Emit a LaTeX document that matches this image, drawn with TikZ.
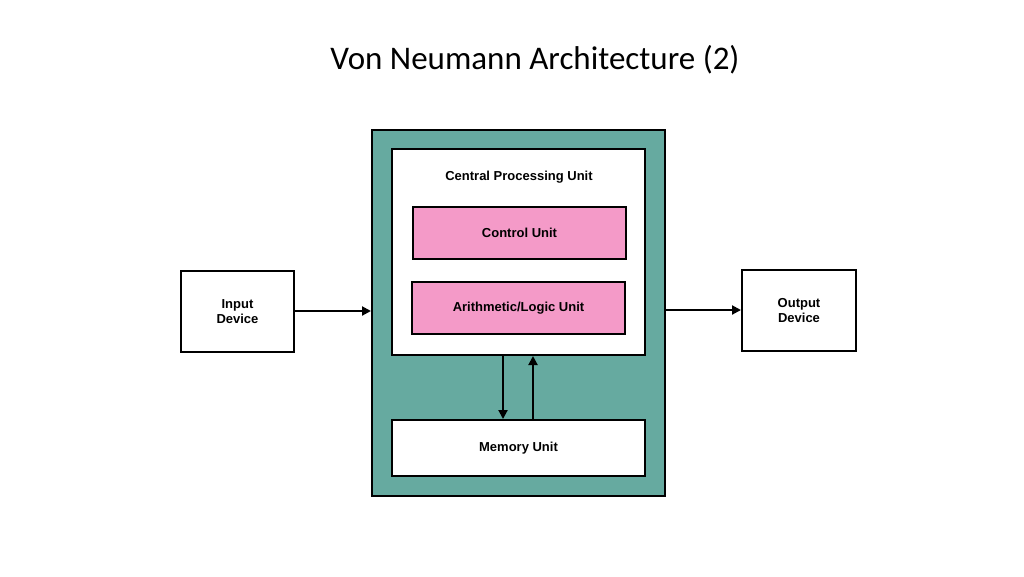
\documentclass[tikz,border=0pt]{standalone}
\usepackage{fontspec}
\setmainfont{Liberation Sans}
\newfontfamily\titlefont{Carlito}
\usetikzlibrary{arrows.meta}
\definecolor{teal1}{HTML}{66AAA0}
\definecolor{pink1}{HTML}{F49AC8}
\begin{document}
\begin{tikzpicture}[x=1pt,y=-1pt,
  box/.style={draw=black,line width=2pt,font=\bfseries\fontsize{13}{15}\selectfont,align=center,inner sep=0pt},
  arr/.style={line width=2pt,-{Triangle[length=9pt,width=9pt]}}]
\useasboundingbox (0,0) rectangle (1024,576);
\node[font=\titlefont\fontsize{33}{38}\selectfont] (title) at (535,60) {Von Neumann Architecture (2)};
\node[box,fill=teal1,minimum width=293pt,minimum height=366pt] (outer) at (518.5,313) {};
\node[box,fill=white,minimum width=253pt,minimum height=206pt] (cpu) at (518.5,252) {};
\node[font=\bfseries\fontsize{13}{15}\selectfont] (cpul) at (519,177) {Central Processing Unit};
\node[box,fill=pink1,minimum width=213pt,minimum height=52pt] (cu) at (519.5,233) {Control Unit};
\node[box,fill=pink1,minimum width=213pt,minimum height=52pt] (alu) at (518.5,308) {Arithmetic/Logic Unit};
\node[box,fill=white,minimum width=253pt,minimum height=56pt] (mem) at (518.5,448) {Memory Unit};
\node[box,fill=white,minimum width=113pt,minimum height=81pt] (in) at (237.5,311.5) {Input\\Device};
\node[box,fill=white,minimum width=114pt,minimum height=81pt] (out) at (799,310.5) {Output\\Device};
\draw[arr] (in.east |- 0,311) -- (outer.west |- 0,311);
\draw[arr] (outer.east |- 0,310) -- (out.west |- 0,310);
\draw[arr] (503,0 |- cpu.south) -- (503,0 |- mem.north);
\draw[arr] (533,0 |- mem.north) -- (533,0 |- cpu.south);
\end{tikzpicture}
\end{document}
